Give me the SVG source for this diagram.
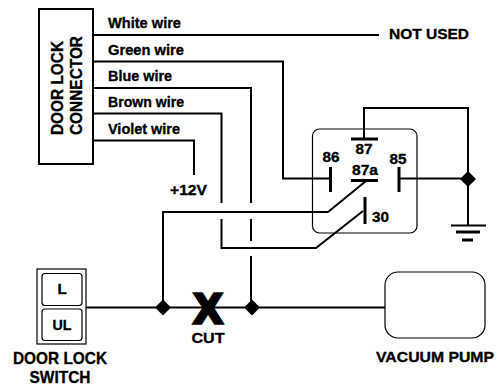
<svg xmlns="http://www.w3.org/2000/svg" width="499" height="386" viewBox="0 0 499 386">
<style>
.w{fill:none;stroke:#000;stroke-width:2}
.t{fill:none;stroke:#000;stroke-width:1.2}
.b{fill:none;stroke:#000;stroke-width:3}
.d{fill:#000;stroke:none}
text{font-family:"Liberation Sans",Arial,sans-serif;font-weight:bold;font-size:15px;fill:#000;stroke:#000;stroke-width:.35}
.l{font-size:16.500px}
.m{text-anchor:middle}
</style>
<rect width="499" height="386" fill="#fff"/>
<g id="connectors">
<path class="w" d="M93 35H379"/>
<path class="w" d="M93 61.500H283V178.500H330"/>
<path class="w" d="M93 88H251V203M251 219V241M251 256V307"/>
<path class="w" d="M93 113.500H221.500V203M221.500 219V248H316L363 211"/>
<path class="w" d="M93 140.500H194V175"/>
<path class="w" d="M163 307V212H328L366 181"/>
<path class="w" d="M364 139V108H468V225"/>
<path class="w" d="M399 178.500H468"/>
<path class="w" d="M86 307.500H385"/>
</g>
<g id="door-lock-connector">
<rect class="w" x="39" y="9" width="54" height="155"/>
<text class="l" transform="translate(62.500 135) rotate(-90)" textLength="94" lengthAdjust="spacingAndGlyphs">DOOR LOCK</text>
<text class="l" transform="translate(81.500 135) rotate(-90)" textLength="99" lengthAdjust="spacingAndGlyphs">CONNECTOR</text>
</g>
<g id="wire-labels">
<text x="108" y="28" textLength="73" lengthAdjust="spacingAndGlyphs">White wire</text>
<text x="108" y="55" textLength="76" lengthAdjust="spacingAndGlyphs">Green wire</text>
<text x="108" y="81" textLength="64" lengthAdjust="spacingAndGlyphs">Blue wire</text>
<text x="108" y="107" textLength="76" lengthAdjust="spacingAndGlyphs">Brown wire</text>
<text x="108" y="134" textLength="72" lengthAdjust="spacingAndGlyphs">Violet wire</text>
<text x="170" y="195" textLength="37" lengthAdjust="spacingAndGlyphs">+12V</text>
<text x="389" y="39" textLength="80" lengthAdjust="spacingAndGlyphs">NOT USED</text>
</g>
<g id="relay">
<rect class="t" x="312.500" y="129" width="104.500" height="104" rx="7"/>
<path class="b" d="M351 139H378M351 180.500H378M330.500 167V192M399 167V192M365 197V224"/>
<text class="m" x="364" y="154" textLength="17" lengthAdjust="spacingAndGlyphs">87</text>
<text class="m" x="331" y="162" textLength="17" lengthAdjust="spacingAndGlyphs">86</text>
<text class="m" x="398" y="164" textLength="17" lengthAdjust="spacingAndGlyphs">85</text>
<text class="m" x="365" y="175" textLength="26" lengthAdjust="spacingAndGlyphs">87a</text>
<text x="372" y="222" textLength="17" lengthAdjust="spacingAndGlyphs">30</text>
</g>
<g id="ground">
<path class="w" d="M451 225.500H486"/>
<path class="b" d="M456 232H480"/>
<path class="b" d="M462 240H473"/>
</g>
<g id="junctions">
<path class="d" d="M468 171L476 179L468 187L460 179Z"/>
<path class="d" d="M163 299.500L171 307.500L163 315.500L155 307.500Z"/>
<path class="d" d="M252 299.500L260 307.500L252 315.500L244 307.500Z"/>
</g>
<g id="door-lock-switch">
<rect class="t" x="37" y="269" width="49" height="75"/>
<rect class="t" x="42" y="273.500" width="40" height="32" rx="3"/>
<rect class="t" x="42" y="309" width="40" height="31.500" rx="3"/>
<text class="m" x="62" y="294">L</text>
<text class="m" x="62" y="330" textLength="19" lengthAdjust="spacingAndGlyphs">UL</text>
<text class="m l" x="60" y="364" textLength="94" lengthAdjust="spacingAndGlyphs">DOOR LOCK</text>
<text class="m l" x="60" y="383" textLength="61" lengthAdjust="spacingAndGlyphs">SWITCH</text>
</g>
<g id="cut">
<text class="m" x="208" y="323" style="font-size:42px;stroke-width:3.500">X</text>
<text class="m" x="208" y="343" textLength="33" lengthAdjust="spacingAndGlyphs">CUT</text>
</g>
<g id="vacuum-pump">
<rect class="t" x="385" y="272" width="100" height="66" rx="13"/>
<text class="m" x="435" y="362" textLength="118" lengthAdjust="spacingAndGlyphs">VACUUM PUMP</text>
</g>
</svg>
